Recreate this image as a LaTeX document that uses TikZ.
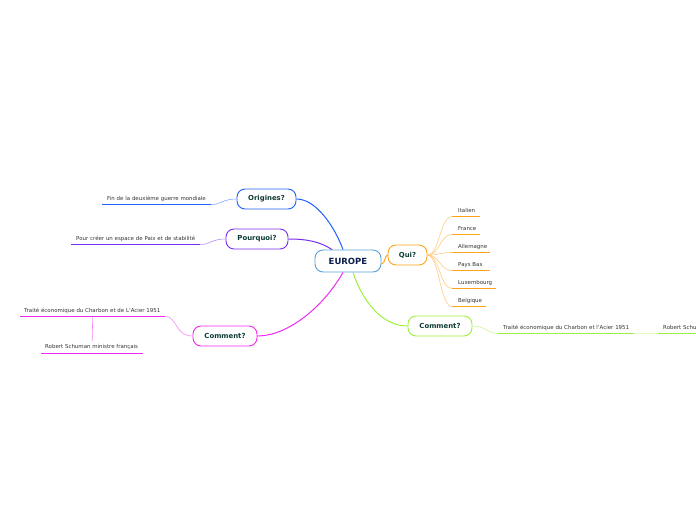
\documentclass[tikz,border=0pt]{standalone}
\usepackage{fontspec}
\setmainfont{DejaVu Sans}
\definecolor{cblue}{HTML}{2060FF}
\definecolor{cpurple}{HTML}{7A2EF5}
\definecolor{corange}{HTML}{FFA31A}
\definecolor{cgreen}{HTML}{9CF03C}
\definecolor{cmag}{HTML}{F02AF0}
\definecolor{ceur}{HTML}{5A9FD8}
\definecolor{ttl}{HTML}{0E3B34}
\definecolor{eurtxt}{HTML}{0B1E4E}
\definecolor{leaftxt}{HTML}{333333}
\begin{document}
\begin{tikzpicture}[x=1pt,y=-1pt,
  topic/.style={draw=#1, line width=0.9pt, rounded corners=8pt, fill=white,
     font=\bfseries\fontsize{6.9}{8}\selectfont, text=ttl, inner sep=0pt, minimum height=20pt},
  leaf/.style={font=\fontsize{5.45}{6}\selectfont, text=leaftxt, inner xsep=5pt, inner ysep=0pt,
     minimum height=11pt, align=left, anchor=south west, text width=#1},
  ul/.style={draw=#1, line width=1.8pt},
  main/.style={draw=#1, line width=1pt},
  sub/.style={draw=#1!55, line width=0.6pt}]
\useasboundingbox (0,0) rectangle (696,520);

\coordinate (eurc) at (348,261);
\node[draw=ceur, line width=0.9pt, rounded corners=8pt, fill=white, minimum width=66pt, minimum height=22pt,
  inner sep=0pt, font=\bfseries\fontsize{8.5}{9}\selectfont, text=eurtxt] (eur) at (eurc) {EUROPE};

\node[topic=cblue, minimum width=59pt] (orig) at (266.5,199) {Origines?};
\node[topic=cpurple, minimum width=62pt] (pour) at (257,239) {Pourquoi?};
\node[topic=corange, minimum width=39pt] (qui) at (407.5,255) {Qui?};
\node[topic=cgreen, minimum width=64pt] (comr) at (440,326) {Comment?};
\node[topic=cmag, minimum width=64pt] (coml) at (225,336) {Comment?};

\draw[main=cblue] ([xshift=-5pt]eur.north) .. controls +(-8,-22) and +(20,0) .. (orig.east);
\draw[main=cpurple] ([xshift=-16pt]eur.north) .. controls +(-12,-8) and +(18,0) .. (pour.east);
\draw[main=corange] ([yshift=-3pt]eur.east) .. controls +(4,0) and +(-3,0) .. (qui.west);
\draw[main=cgreen] ([xshift=5pt]eur.south) .. controls +(10,30) and +(-25,0) .. (comr.west);
\draw[main=cmag] ([xshift=-5pt]eur.south) .. controls +(-20,35) and +(30,0) .. (coml.east);

% Origines child
\node[leaf=99pt] (fin) at (102,204.5) {\rlap{Fin de la deuxième guerre mondiale}};
\draw[ul=cblue] (fin.south west) -- (fin.south east);
\draw[sub=cblue] (orig.west) .. controls +(-14,0) and +(10,0) .. (fin.south east);

% Pourquoi child
\node[leaf=119pt] (paix) at (71,244.5) {\rlap{Pour créer un espace de Paix et de stabilité}};
\draw[ul=cpurple] (paix.south west) -- (paix.south east);
\draw[sub=cpurple] (pour.west) .. controls +(-14,0) and +(10,0) .. (paix.south east);

% Qui children
\foreach \nm/\txt/\y/\w in {ita/Italien/216/16, fra/France/234/16, all/Allemagne/252/26,
    pb/Pays Bas/270/26, lux/Luxembourg/288/32, bel/Belgique/306/22}{
  \node[leaf=\w pt, inner xsep=6pt] (\nm) at (452,\y+0.5) {\rlap{\txt}};
  \draw[ul=corange] (\nm.south west) -- (\nm.south east);
  \draw[sub=corange] (qui.east) .. controls +(12,0) and +(-12,0) .. (\nm.south west);
}

% Comment right children
\node[leaf=126pt] (trr) at (498,333.5) {\rlap{Traité économique du Charbon et l'Acier 1951}};
\draw[ul=cgreen] (trr.south west) -- (trr.south east);
\draw[sub=cgreen] (comr.east) .. controls +(14,0) and +(-12,0) .. (trr.south west);
\node[leaf=120pt] (rsr) at (658,333.5) {\rlap{Robert Schuman ministre français}};
\draw[ul=cgreen] (rsr.south west) -- (rsr.south east);
\draw[draw=cgreen!30, line width=1.8pt] (trr.south east) -- (rsr.south west);

% Comment left children
\node[leaf=137pt, inner xsep=4pt] (trl) at (20,316.5) {\rlap{Traité économique du Charbon et de L'Acier 1951}};
\draw[ul=cmag] (trl.south west) -- (trl.south east);
\draw[sub=cmag] (coml.west) .. controls +(-18,0) and +(12,0) .. (trl.south east);
\node[leaf=94pt, inner xsep=4pt, minimum height=12pt] (rsl) at (41,353.5) {\rlap{Robert Schuman ministre français}};
\draw[ul=cmag] (rsl.south west) -- (rsl.south east);
\draw[sub=cmag] (trl.south) -- (rsl.north);
\end{tikzpicture}
\end{document}
